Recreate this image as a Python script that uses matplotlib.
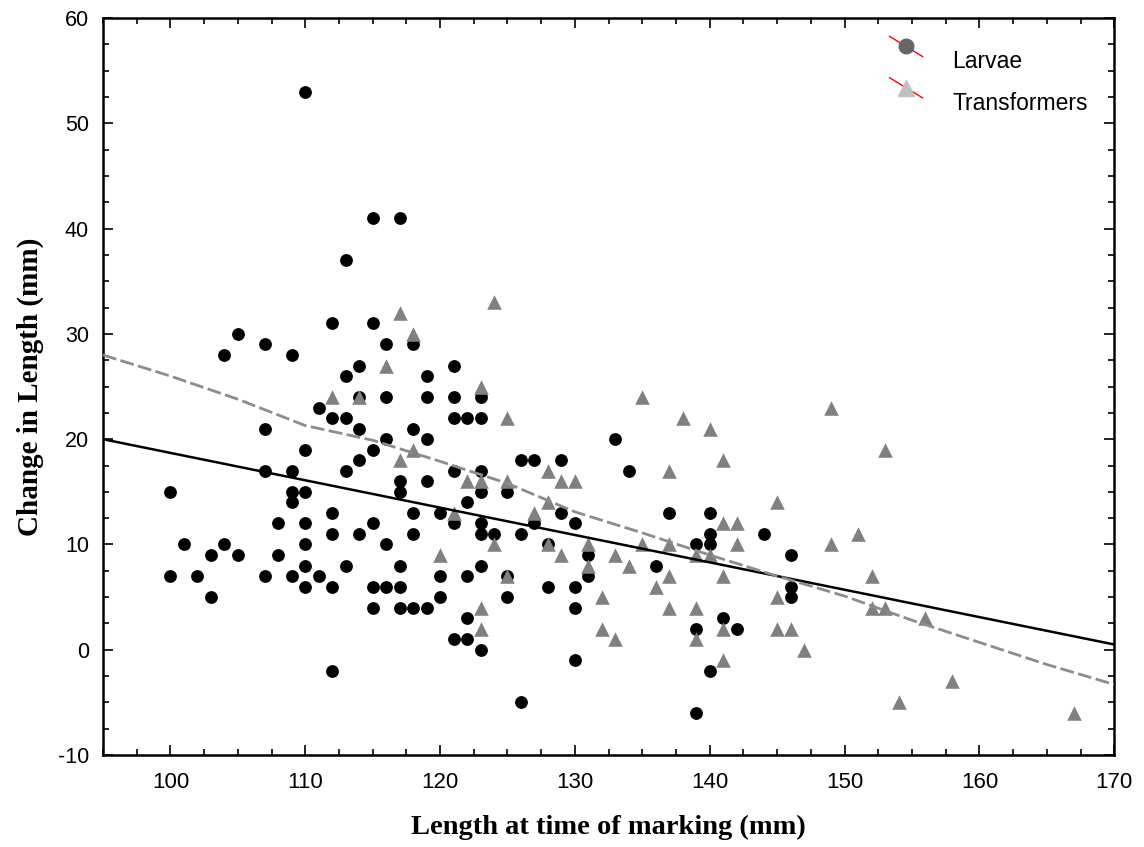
import matplotlib
matplotlib.use("Agg")
import matplotlib.pyplot as plt
from matplotlib.lines import Line2D
from matplotlib.legend_handler import HandlerBase
from matplotlib.ticker import MultipleLocator

plt.rcParams["font.family"] = ["Liberation Sans", "DejaVu Sans"]
plt.rcParams["axes.unicode_minus"] = False

# Larvae (black circles)
larvae_x = [100, 100, 101, 102, 103, 103, 104, 104, 105, 105,
            107, 107, 107, 107, 108, 108, 109, 109, 109, 109, 109,
            110, 110, 110, 110, 110, 110, 110, 111, 111,
            112, 112, 112, 112, 112, 112,
            113, 113, 113, 113, 113,
            114, 114, 114, 114, 114,
            115, 115, 115, 115, 115, 115,
            116, 116, 116, 116, 116,
            117, 117, 117, 117, 117, 117,
            118, 118, 118, 118, 118,
            119, 119, 119, 119, 119,
            120, 120, 120,
            121, 121, 121, 121, 121, 121,
            122, 122, 122, 122, 122,
            123, 123, 123, 123, 123, 123, 123, 123,
            124, 125, 125, 125,
            126, 126, 126, 127, 127, 128, 128,
            129, 129, 130, 130, 130, 130, 131, 131,
            133, 134, 136, 137,
            139, 139, 139, 140, 140, 140, 140, 141, 142, 144,
            146, 146, 146]
larvae_y = [15, 7, 10, 7, 9, 5, 28, 10, 30, 9,
            29, 21, 17, 7, 12, 9, 28, 17, 15, 14, 7,
            53, 19, 15, 12, 10, 8, 6, 23, 7,
            31, 22, 13, 11, 6, -2,
            37, 26, 22, 17, 8,
            27, 24, 21, 18, 11,
            41, 31, 19, 12, 6, 4,
            29, 24, 20, 10, 6,
            41, 16, 15, 8, 6, 4,
            29, 21, 13, 11, 4,
            26, 24, 20, 16, 4,
            13, 7, 5,
            27, 24, 22, 17, 12, 1,
            22, 14, 7, 3, 1,
            24, 22, 17, 15, 12, 11, 8, 0,
            11, 15, 7, 5,
            18, 11, -5, 18, 12, 10, 6,
            18, 13, 12, 6, 4, -1, 9, 7,
            20, 17, 8, 13,
            10, 2, -6, 13, 11, 10, -2, 3, 2, 11,
            9, 6, 5]

# Transformers (gray triangles)
trans_x = [112, 114, 116, 117, 117, 118, 118, 120, 121, 122, 123, 123, 123, 123,
           124, 124, 125, 125, 125,
           127, 128, 128, 128, 129, 129, 130, 131, 131, 132, 132, 133, 133, 134,
           135, 135, 136, 137, 137, 137, 137, 138,
           139, 139, 139, 140, 140, 141, 141, 141, 141, 141, 142, 142,
           145, 145, 145, 146, 147, 149, 149, 151, 152, 152, 153, 153,
           154, 156, 158, 167]
trans_y = [24, 24, 27, 32, 18, 30, 19, 9, 13, 16, 25, 16, 4, 2,
           33, 10, 22, 16, 7,
           13, 17, 14, 10, 16, 9, 16, 10, 8, 5, 2, 9, 1, 8,
           24, 10, 6, 17, 10, 7, 4, 22,
           9, 4, 1, 21, 9, 18, 12, 7, 2, -1, 12, 10,
           14, 5, 2, 2, 0, 23, 10, 11, 7, 4, 19, 4,
           -5, 3, -3, -6]

# fitted lines
larvae_fit_x = [95, 170]
larvae_fit_y = [20.0, 0.5]
trans_fit_x = [95, 100, 105, 110, 115, 120, 125, 130, 135, 140, 145, 150, 155, 160, 165, 170]
trans_fit_y = [28.0, 26.0, 23.8, 21.3, 19.9, 17.9, 15.8, 13.1, 11.1, 9.0, 7.0, 5.1, 2.8, 0.7, -1.4, -3.3]


class SlashHandler(HandlerBase):
    # marker sits a bit above the label, crossed by a red diagonal stroke
    def create_artists(self, legend, orig_handle, xdescent, ydescent,
                       width, height, fontsize, trans):
        cx = width / 2 - xdescent
        cy = height / 2 - ydescent + 0.6 * fontsize
        slash = Line2D([cx - width / 2, cx + width / 2],
                       [cy + 0.44 * fontsize, cy - 0.44 * fontsize],
                       color="red", lw=1.0, transform=trans)
        dot = Line2D([cx], [cy], ls="none", marker=orig_handle.get_marker(),
                     ms=orig_handle.get_markersize(),
                     mfc=orig_handle.get_markerfacecolor(),
                     mec=orig_handle.get_markeredgecolor(), transform=trans)
        return [slash, dot]


fig = plt.figure(figsize=(11.44, 8.47), dpi=100)
ax = fig.add_axes([0.090, 0.1086, 0.884, 0.870])

ax.scatter(larvae_x, larvae_y, s=85, marker="o", color="black", linewidths=0, zorder=2)
ax.scatter(trans_x, trans_y, s=110, marker="^", color="#808080", linewidths=0, zorder=3)
ax.plot(larvae_fit_x, larvae_fit_y, color="black", lw=1.8, zorder=4)
ax.plot(trans_fit_x, trans_fit_y, color="#8c8c8c", lw=2.0, ls=(0, (5, 1.6)), zorder=4)

ax.set_xlim(95, 170)
ax.set_ylim(-10, 60)
ax.xaxis.set_major_locator(MultipleLocator(10))
ax.xaxis.set_minor_locator(MultipleLocator(2.5))
ax.yaxis.set_major_locator(MultipleLocator(10))
ax.yaxis.set_minor_locator(MultipleLocator(2.5))
ax.tick_params(which="both", direction="in", top=True, right=True, width=1.2)
ax.tick_params(which="major", length=7)
ax.tick_params(which="minor", length=4)
ax.tick_params(axis="x", labelsize=16, pad=12)
ax.tick_params(axis="y", labelsize=15.5, pad=10)
for sp in ax.spines.values():
    sp.set_linewidth(1.8)

ax.set_xlabel("Length at time of marking (mm)", family="Liberation Serif",
              fontweight="bold", fontsize=20.5, labelpad=16)
ax.set_ylabel("Change in Length (mm)", family="Liberation Serif",
              fontweight="bold", fontsize=21, labelpad=10)

h1 = Line2D([], [], ls="none", marker="o", ms=10.5, mfc="#666666", mec="#666666")
h2 = Line2D([], [], ls="none", marker="^", ms=11.5, mfc="#c0c0c0", mec="#c0c0c0")
ax.legend([h1, h2], ["Larvae", "Transformers"],
          handler_map={Line2D: SlashHandler()},
          loc="upper left", bbox_to_anchor=(0.7665, 0.972), frameon=False,
          fontsize=16.5, handlelength=1.44, handletextpad=1.31, labelspacing=0.8,
          borderpad=0)

fig.savefig("out.png", dpi=100)
